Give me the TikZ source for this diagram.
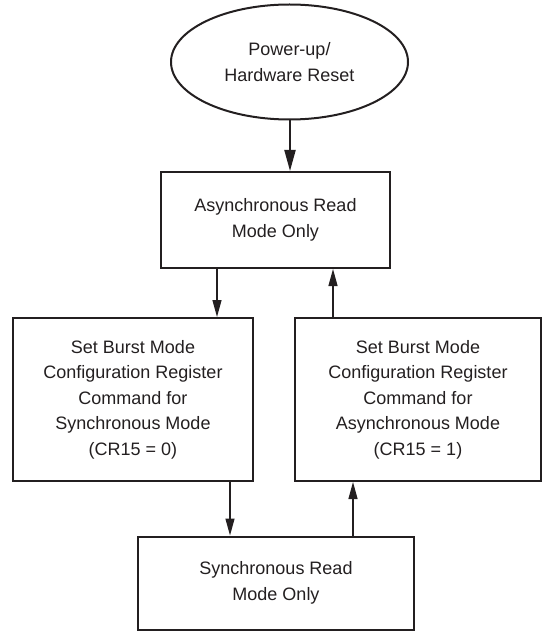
\documentclass[tikz,border=0pt]{standalone}
\usepackage{fontspec}
\setmainfont{Liberation Sans}
\usetikzlibrary{arrows.meta,shapes.geometric}
\definecolor{ink}{HTML}{231F20}
\begin{document}
\begin{tikzpicture}[x=1pt,y=-1pt,
  every node/.style={font=\fontsize{18}{25.5}\selectfont, text=ink, align=center, inner sep=0pt},
  box/.style={draw=ink, line width=2pt},
  arr/.style={draw=ink, line width=1.3pt, -{Triangle[length=17pt,width=9pt]}}]
\useasboundingbox (0,0) rectangle (555,631);
\node[ellipse, box, minimum width=237, minimum height=115] (pwr) at (289.5,62) {Power-up/\\Hardware Reset};
\node[box, minimum width=229, minimum height=96] (async) at (275.5,220) {Asynchronous Read\\Mode Only};
\node[box, minimum width=240, minimum height=163] (setsync) at (133,399.5) {Set Burst Mode\\Configuration Register\\Command for\\Synchronous Mode\\(CR15 = 0)};
\node[box, minimum width=246, minimum height=163] (setasync) at (418,399.5) {Set Burst Mode\\Configuration Register\\Command for\\Asynchronous Mode\\(CR15 = 1)};
\node[box, minimum width=276, minimum height=93] (sync) at (276,583) {Synchronous Read\\Mode Only};
\coordinate (x0) at (290,0);
\coordinate (x1) at (217,0);
\coordinate (x2) at (333,0);
\coordinate (x3) at (230,0);
\coordinate (x4) at (353,0);
\draw[arr, line width=2pt, -{Triangle[length=21pt,width=11pt]}] (pwr.south -| x0) -- (async.north -| x0);
\draw[arr] (async.south -| x1) -- (setsync.north -| x1);
\draw[arr] (setasync.north -| x2) -- (async.south -| x2);
\draw[arr] (setsync.south -| x3) -- (sync.north -| x3);
\draw[arr] (sync.north -| x4) -- (setasync.south -| x4);
\end{tikzpicture}
\end{document}
